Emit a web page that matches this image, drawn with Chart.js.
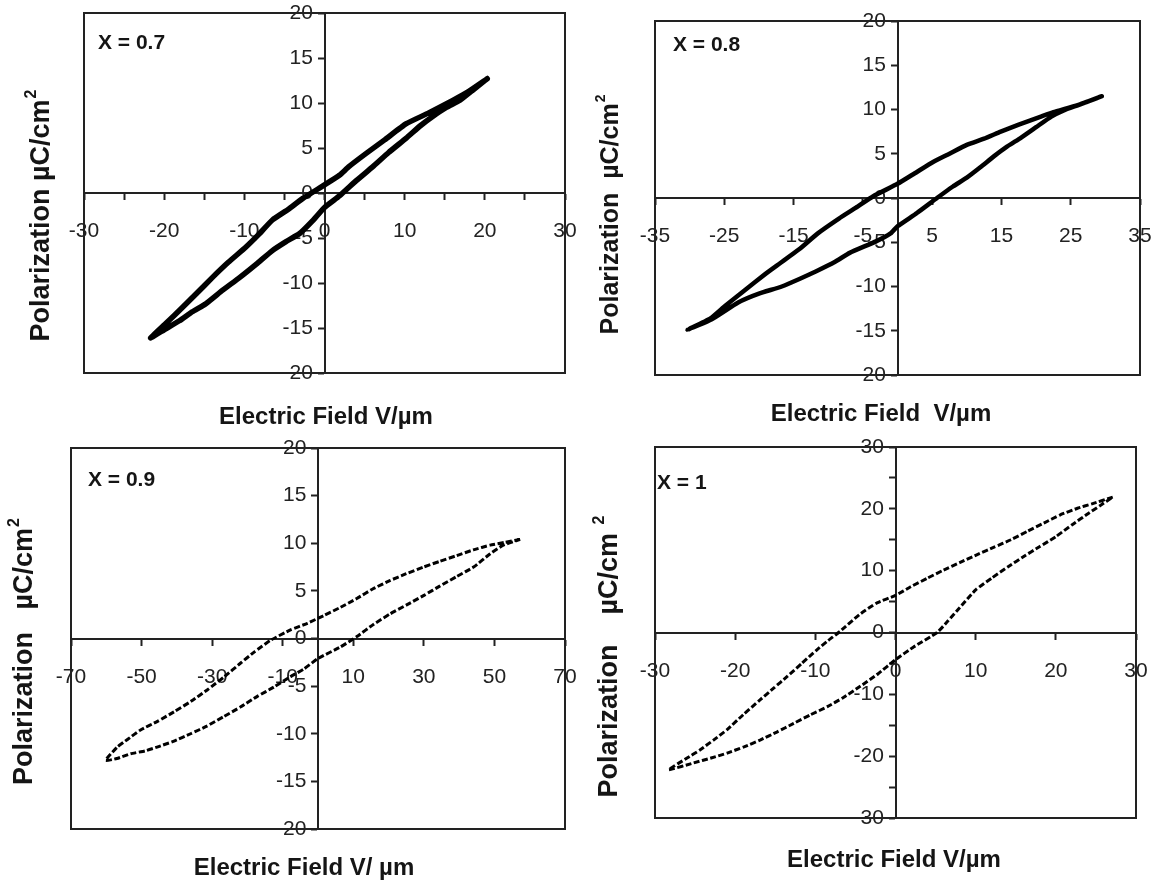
<!DOCTYPE html>
<html>
<head>
<meta charset="utf-8">
<script src="https://cdn.jsdelivr.net/npm/chart.js@4.4.1/dist/chart.umd.min.js"></script>
<style>
  html, body { margin: 0; padding: 0; background: #fff; }
  #page { position: relative; width: 1157px; height: 888px; overflow: hidden; }
  #page canvas { position: absolute; left: 0px; top: -30px; }
</style>
</head>
<body>
<div id="page">
  <canvas id="c07" width="1200" height="950"></canvas>
  <canvas id="c08" width="1200" height="950"></canvas>
  <canvas id="c09" width="1200" height="950"></canvas>
  <canvas id="c10" width="1200" height="950"></canvas>
</div>
<script>
// P-E loops, field in V/um, polarization in uC/cm2.
// each loop: falling branch from +Emax to -Emax, then rising branch back.

// x = 0.7
const field07 = [20.3, 18.0, 16.0, 13.0, 10.2, 7.5, 5.2, 3.0, 1.9, 0, -2.7, -4.5, -6.5, -8.2, -9.8, -12.0, -14.0, -16.0, -17.7, -19.8, -21.7,
                 -20.0, -18.1, -16.5, -14.8, -12.7, -10.6, -8.5, -6.5, -4.8, -3.1, -1.5, 0, 1.9, 4.0, 6.0, 8.0, 10.2, 12.0, 13.5, 15.2, 16.9, 18.6, 20.3];
const pol07 = [12.7, 11.3, 10.3, 8.9, 7.7, 5.9, 4.4, 2.9, 2.0, 0.9, -0.6, -1.8, -3.0, -4.6, -6.0, -7.7, -9.4, -11.2, -12.7, -14.5, -16.1,
               -15.2, -14.2, -13.2, -12.3, -10.8, -9.4, -7.9, -6.4, -5.4, -4.5, -3.1, -1.6, -0.3, 1.4, 2.9, 4.5, 6.1, 7.5, 8.5, 9.5, 10.3, 11.5, 12.7];

// x = 0.8
const field08 = [29.5, 26.0, 22.5, 20.7, 17.5, 14.9, 12.5, 10.0, 7.5, 5.2, 2.5, 0, -3.5, -6.0, -8.4, -11.5, -14.2, -17.0, -19.1, -22.0, -24.9, -27.0, -30.3,
                 -26.8, -23.0, -20.0, -16.7, -14.0, -11.8, -9.0, -6.9, -3.1, -1.0, 0, 2.8, 5.7, 8.0, 10.0, 12.0, 13.9, 15.8, 17.8, 20.0, 22.2, 24.0, 26.1, 29.5];
const pol08 = [11.5, 10.5, 9.7, 9.2, 8.3, 7.5, 6.7, 6.0, 5.0, 4.1, 2.8, 1.6, 0.2, -1.1, -2.3, -4.0, -5.8, -7.4, -8.6, -10.4, -12.2, -13.6, -14.9,
               -13.7, -11.8, -10.8, -10.0, -9.1, -8.3, -7.2, -6.2, -4.9, -4.0, -3.2, -1.7, 0, 1.3, 2.3, 3.5, 4.7, 5.8, 6.8, 8.0, 9.2, 9.9, 10.5, 11.5];

// x = 0.9
const field09 = [57.3, 53.0, 48.8, 44.0, 39.3, 34.5, 29.9, 25.0, 20.5, 15.5, 11.0, 6.0, 1.6, -3.0, -7.8, -13.5, -18.0, -22.0, -26.5, -31.4, -36.0, -40.8, -45.5, -50.3, -54.0, -56.9, -60.2,
                 -57.0, -53.1, -49.0, -45.6, -41.0, -36.1, -31.5, -26.7, -22.0, -17.3, -12.5, -7.8, -4.0, 0, 6.3, 11.0, 15.8, 20.5, 25.0, 29.9, 34.5, 39.3, 44.1, 48.8, 52.5, 57.3];
const pol09 = [10.4, 10.1, 9.8, 9.3, 8.7, 8.1, 7.5, 6.8, 6.1, 5.2, 4.2, 3.2, 2.4, 1.6, 0.9, -0.2, -1.4, -2.6, -4.0, -5.4, -6.6, -7.7, -8.7, -9.6, -10.6, -11.4, -12.8,
               -12.6, -12.1, -11.8, -11.4, -10.8, -10.0, -9.2, -8.2, -7.2, -6.1, -5.1, -4.0, -3.2, -2.1, -0.9, 0.2, 1.5, 2.6, 3.5, 4.5, 5.5, 6.5, 7.5, 8.9, 9.8, 10.4];

// x = 1
const field10 = [27.1, 24.5, 22.7, 20.5, 18.5, 16.5, 14.4, 12.3, 10.2, 8.0, 6.0, 4.0, 1.9, 0, -2.3, -4.5, -6.9, -8.4, -9.8, -11.7, -13.5, -15.2, -16.9, -19.0, -21.0, -22.7, -24.4, -26.0, -28.3,
                 -25.2, -23.0, -21.0, -18.9, -16.9, -14.8, -12.7, -10.6, -8.5, -6.5, -4.4, -2.2, 0, 2.3, 5.2, 6.5, 8.0, 10.0, 12.0, 14.0, 16.0, 18.0, 20.0, 22.0, 24.0, 25.5, 27.1];
const pol10 = [21.9, 20.8, 20.1, 19.0, 17.7, 16.4, 15.0, 13.8, 12.6, 11.3, 10.1, 8.8, 7.4, 6.0, 4.8, 2.9, 0.2, -1.3, -2.8, -5.0, -7.1, -9.0, -10.9, -13.3, -15.7, -17.4, -19.0, -20.3, -22.2,
               -21.1, -20.3, -19.5, -18.5, -17.4, -16.1, -14.7, -13.3, -12.0, -10.5, -8.7, -6.7, -4.4, -2.3, 0, 1.8, 4.0, 6.9, 8.8, 10.6, 12.3, 13.9, 15.5, 17.4, 19.2, 20.5, 21.9];

// axis ticks (marks) and which of them carry a label
const xTicks07 = [-30, -25, -20, -15, -10, -5, 0, 5, 10, 15, 20, 25, 30];
const xLabels07 = [-30, -20, -10, 0, 10, 20, 30];
const yTicks07 = [-20, -15, -10, -5, 0, 5, 10, 15, 20];

const xTicks08 = [-35, -25, -15, -5, 5, 15, 25, 35];
const yTicks08 = [-20, -15, -10, -5, 0, 5, 10, 15, 20];

const xTicks09 = [-70, -50, -30, -10, 10, 30, 50, 70];
const yTicks09 = [-20, -15, -10, -5, 0, 5, 10, 15, 20];

const xTicks10 = [-30, -20, -10, 0, 10, 20, 30];
const yTicks10 = [-30, -25, -20, -15, -10, -5, 0, 5, 10, 15, 20, 25, 30];
const yLabels10 = [-30, -20, -10, 0, 10, 20, 30];

const FONT = '"Liberation Sans", Arial, sans-serif';
const INK = '#222';
// every canvas covers the whole page, pulled up by SHIFT px
const SHIFT = 30;
const CW = 1200, CH = 950;

// frame around the plot area plus the free text of each panel
const panelDecor = {
    id: 'panelDecor',
    beforeDatasetsDraw(chart) {
        const ctx = chart.ctx;
        const a = chart.chartArea;
        ctx.save();
        ctx.strokeStyle = INK;
        ctx.lineWidth = 2;
        ctx.strokeRect(a.left, a.top, a.right - a.left, a.bottom - a.top);
        ctx.restore();
    },
    afterDraw(chart, args, opts) {
        const ctx = chart.ctx;
        ctx.save();
        ctx.translate(0, SHIFT);
        ctx.fillStyle = '#151515';
        ctx.textBaseline = 'middle';

        ctx.font = 'bold 21px ' + FONT;
        ctx.textAlign = 'left';
        ctx.fillText(opts.tag, opts.tagAt[0], opts.tagAt[1]);

        ctx.font = 'bold 24px ' + FONT;
        ctx.textAlign = 'center';
        ctx.fillText(opts.xTitle, opts.xTitleAt[0], opts.xTitleAt[1]);

        // y title, rotated, with superscript 2
        const big = 'bold ' + opts.ySize + 'px ' + FONT;
        const small = 'bold ' + Math.round(opts.ySize * 0.58) + 'px ' + FONT;
        ctx.translate(opts.yTitleAt[0], opts.yTitleAt[1]);
        ctx.rotate(-Math.PI / 2);
        ctx.textAlign = 'left';
        ctx.font = big;
        const mainW = ctx.measureText(opts.yTitle).width;
        ctx.font = small;
        const supW = ctx.measureText('2').width;
        const x0 = -(mainW + supW) / 2;
        ctx.font = big;
        ctx.fillText(opts.yTitle, x0, 0);
        ctx.font = small;
        ctx.fillText('2', x0 + mainW + 1, -opts.ySize * 0.38);
        ctx.restore();
    }
};

function loopPoints(field, pol) {
    const pts = [];
    for (let i = 0; i < field.length; i++) {
        pts.push({x: field[i], y: pol[i]});
    }
    return pts;
}

// layout padding that puts the plot area on the given page box
function boxPadding(left, top, right, bottom) {
    return {left: left, top: top + SHIFT, right: CW - right, bottom: CH - bottom - SHIFT};
}

function axis(min, max, tickValues, labelValues, pos, padding, suffix) {
    return {
        type: 'linear',
        min: min,
        max: max,
        position: pos,
        afterBuildTicks: (scale) => {
            scale.ticks = tickValues.map(v => ({value: v}));
        },
        ticks: {
            autoSkip: false,
            maxRotation: 0,
            padding: padding,
            color: INK,
            font: {family: FONT, size: 21},
            callback: (v) => labelValues.includes(v) ? String(v) + suffix : ''
        },
        grid: {
            drawOnChartArea: false,
            drawTicks: true,
            tickLength: 6,
            tickWidth: 2,
            tickColor: INK
        },
        border: {display: true, color: INK, width: 2}
    };
}

function makePanel(id, cfg) {
    const dashed = cfg.dash.length > 0;
    return new Chart(document.getElementById(id), {
        type: 'scatter',
        data: {
            datasets: [{
                data: loopPoints(cfg.field, cfg.pol),
                showLine: true,
                borderColor: '#000',
                borderWidth: cfg.lineWidth,
                borderDash: cfg.dash,
                borderCapStyle: dashed ? 'butt' : 'round',
                borderJoinStyle: 'round',
                pointRadius: 0,
                tension: 0.15,
                fill: false
            }]
        },
        options: {
            responsive: false,
            animation: false,
            devicePixelRatio: 1,
            layout: {padding: cfg.padding},
            scales: {
                x: axis(cfg.xRange[0], cfg.xRange[1], cfg.xTicks, cfg.xLabels, {y: 0}, 20, ''),
                y: axis(cfg.yRange[0], cfg.yRange[1], cfg.yTicks, cfg.yLabels, {x: 0}, 0, '  ')
            },
            plugins: {
                legend: {display: false},
                tooltip: {enabled: false},
                panelDecor: cfg.text
            }
        },
        plugins: [panelDecor]
    });
}

makePanel('c07', {
    field: field07, pol: pol07, lineWidth: 5.5, dash: [],
    xRange: [-30, 30], yRange: [-20, 20],
    xTicks: xTicks07, xLabels: xLabels07, yTicks: yTicks07, yLabels: yTicks07,
    padding: boxPadding(84, 13, 565, 373),
    text: {tag: 'X = 0.7', tagAt: [98, 43], xTitle: 'Electric Field V/\u00b5m', xTitleAt: [326, 417],
           yTitle: 'Polarization \u00b5C/cm', ySize: 27, yTitleAt: [42, 216]}
});

makePanel('c08', {
    field: field08, pol: pol08, lineWidth: 4.5, dash: [],
    xRange: [-35, 35], yRange: [-20, 20],
    xTicks: xTicks08, xLabels: xTicks08, yTicks: yTicks08, yLabels: yTicks08,
    padding: boxPadding(655, 21, 1140, 375),
    text: {tag: 'X = 0.8', tagAt: [673, 45], xTitle: 'Electric Field  V/\u00b5m', xTitleAt: [881, 414],
           yTitle: 'Polarization  \u00b5C/cm', ySize: 25, yTitleAt: [611, 215]}
});

makePanel('c09', {
    field: field09, pol: pol09, lineWidth: 3, dash: [6, 2.5],
    xRange: [-70, 70], yRange: [-20, 20],
    xTicks: xTicks09, xLabels: xTicks09, yTicks: yTicks09, yLabels: yTicks09,
    padding: boxPadding(71, 448, 565, 829),
    text: {tag: 'X = 0.9', tagAt: [88, 480], xTitle: 'Electric Field V/ \u00b5m', xTitleAt: [304, 868],
           yTitle: 'Polarization   \u00b5C/cm', ySize: 27, yTitleAt: [25, 652]}
});

makePanel('c10', {
    field: field10, pol: pol10, lineWidth: 3, dash: [6, 2.5],
    xRange: [-30, 30], yRange: [-30, 30],
    xTicks: xTicks10, xLabels: xTicks10, yTicks: yTicks10, yLabels: yLabels10,
    padding: boxPadding(655, 447, 1136, 818),
    text: {tag: 'X = 1', tagAt: [657, 483], xTitle: 'Electric Field V/\u00b5m', xTitleAt: [894, 860],
           yTitle: 'Polarization    \u00b5C/cm ', ySize: 27, yTitleAt: [610, 657]}
});
</script>
</body>
</html>
